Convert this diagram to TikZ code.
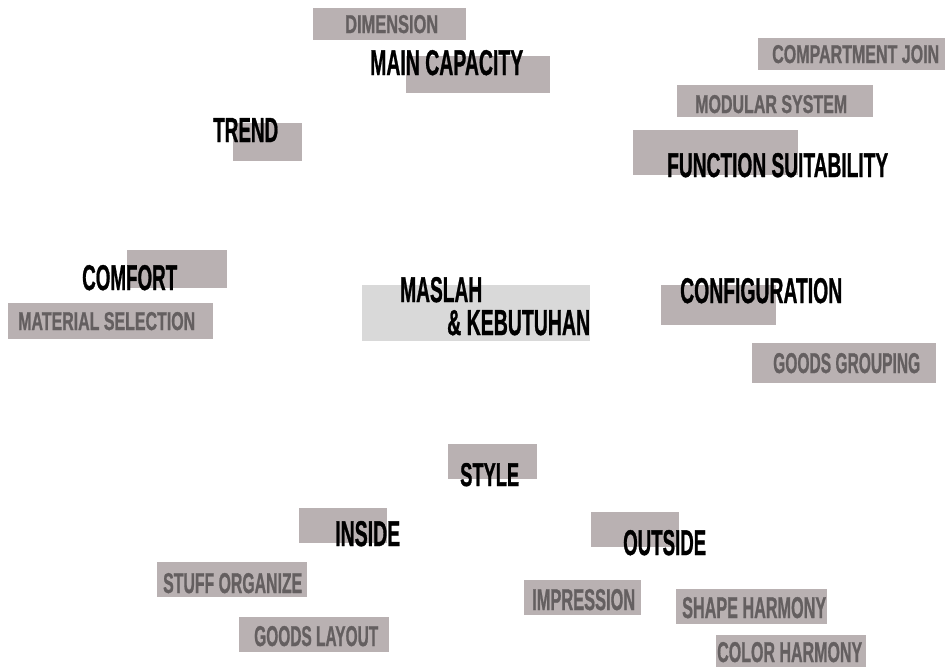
\documentclass[tikz,border=0pt]{standalone}
\usepackage{graphicx}
\usepackage{fontspec}
\setmainfont{Liberation Sans}
\newfontfamily\condfont{Liberation Sans Bold}[FakeBold=1.2]
\definecolor{boxgrey}{HTML}{B9B1B2}
\definecolor{boxlight}{HTML}{D9D9D9}
\definecolor{txtgrey}{HTML}{645F60}
\newcommand\fitt[3]{\resizebox{#1pt}{#2pt}{\condfont #3}}
\tikzset{
  gbox/.style={rectangle, fill=boxgrey, draw=none, inner sep=0pt, anchor=north west},
  lbox/.style={rectangle, fill=boxlight, draw=none, inner sep=0pt, anchor=north west},
  maintxt/.style={inner sep=0pt, anchor=base west, text=black},
  subtxt/.style={inner sep=0pt, anchor=base west, text=txtgrey},
}
\begin{document}
\begin{tikzpicture}[x=1pt,y=-1pt]
\useasboundingbox (0,0) rectangle (946,667);
% boxes
\node[gbox, minimum width=153, minimum height=32] (bdim) at (313,8) {};
\node[gbox, minimum width=144, minimum height=37] (bmain) at (406,56) {};
\node[gbox, minimum width=69, minimum height=38] (btrend) at (233,123) {};
\node[gbox, minimum width=187, minimum height=32] (bcomp) at (758,38) {};
\node[gbox, minimum width=196, minimum height=32] (bmod) at (677,85) {};
\node[gbox, minimum width=165, minimum height=45] (bfunc) at (633,130) {};
\node[gbox, minimum width=100, minimum height=38] (bcomf) at (127,250) {};
\node[gbox, minimum width=205, minimum height=36] (bmat) at (8,303) {};
\node[lbox, minimum width=228, minimum height=56] (bmas) at (362,285) {};
\node[gbox, minimum width=115, minimum height=40] (bconf) at (661,285) {};
\node[gbox, minimum width=184, minimum height=40] (bgg) at (752,343) {};
\node[gbox, minimum width=89, minimum height=35] (bstyle) at (448,444) {};
\node[gbox, minimum width=88, minimum height=35] (bins) at (299,508) {};
\node[gbox, minimum width=88, minimum height=35] (bout) at (591,512) {};
\node[gbox, minimum width=150, minimum height=35] (bstuff) at (157,562) {};
\node[gbox, minimum width=150, minimum height=35] (bgl) at (239,617) {};
\node[gbox, minimum width=117, minimum height=35] (bimp) at (524,580) {};
\node[gbox, minimum width=151, minimum height=35] (bshape) at (676,589) {};
\node[gbox, minimum width=150, minimum height=32] (bcolor) at (716,635) {};
% texts
\node[subtxt] (tdim) at (345,33) {\fitt{93}{18}{DIMENSION}};
\node[maintxt] (tmain) at (370,75) {\fitt{153}{25}{MAIN CAPACITY}};
\node[maintxt] (ttrend) at (213,142) {\fitt{65}{24}{TREND}};
\node[subtxt] (tcomp) at (772,63) {\fitt{167}{18}{COMPARTMENT JOIN}};
\node[subtxt] (tmod) at (695,113) {\fitt{152}{18}{MODULAR SYSTEM}};
\node[maintxt] (tfunc) at (667,177) {\fitt{221}{24}{FUNCTION SUITABILITY}};
\node[maintxt] (tcomf) at (82,290) {\fitt{95}{25}{COMFORT}};
\node[subtxt] (tmat) at (18,330) {\fitt{177}{18}{MATERIAL SELECTION}};
\node[maintxt] (tmas1) at (400,302) {\fitt{82}{25}{MASLAH}};
\node[maintxt] (tmas2) at (447,335) {\fitt{143}{25}{\& KEBUTUHAN}};
\node[maintxt] (tconf) at (680,303) {\fitt{162}{25}{CONFIGURATION}};
\node[subtxt] (tgg) at (773,373) {\fitt{147}{20}{GOODS GROUPING}};
\node[maintxt] (tstyle) at (460,486) {\fitt{59}{23}{STYLE}};
\node[maintxt] (tins) at (335,546) {\fitt{65}{25}{INSIDE}};
\node[maintxt] (tout) at (623,555) {\fitt{83}{25}{OUTSIDE}};
\node[subtxt] (tstuff) at (163,593) {\fitt{139}{20}{STUFF ORGANIZE}};
\node[subtxt] (tgl) at (254,646) {\fitt{124}{20}{GOODS LAYOUT}};
\node[subtxt] (timp) at (532,610) {\fitt{103}{21}{IMPRESSION}};
\node[subtxt] (tshape) at (682,618) {\fitt{144}{21}{SHAPE HARMONY}};
\node[subtxt] (tcolor) at (717,662) {\fitt{145}{20}{COLOR HARMONY}};
\end{tikzpicture}
\end{document}
